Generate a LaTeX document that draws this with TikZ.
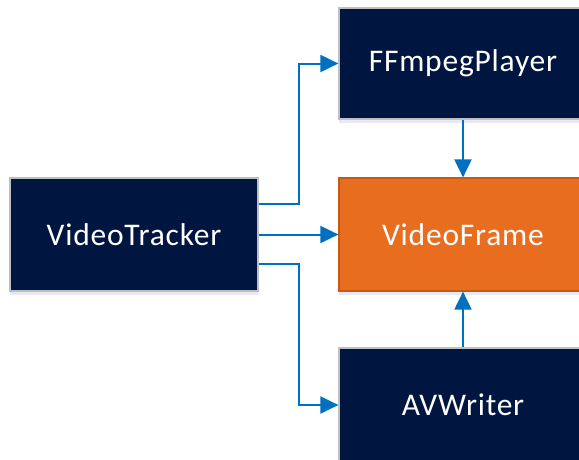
\documentclass[tikz,border=0pt]{standalone}
\usepackage{fontspec}
\setmainfont{Carlito}[LetterSpace=2.5]
\usetikzlibrary{arrows.meta,shadows}
\definecolor{navy}{HTML}{001641}
\definecolor{frameorange}{HTML}{E96D1F}
\definecolor{frameedge}{HTML}{C55A11}
\definecolor{linkblue}{HTML}{0070C0}
\definecolor{boxedge}{HTML}{BFBFBF}
\tikzset{
  darkbox/.style={draw=boxedge, line width=1.2pt, fill=navy, text=white,
    minimum width=248pt, minimum height=113pt, inner sep=0pt,
    font=\fontsize{31.5}{36}\selectfont,
    drop shadow={shadow xshift=0pt, shadow yshift=-4pt, opacity=0.12, fill=blue!40!gray}},
  hotbox/.style={darkbox, draw=frameedge, fill=frameorange},
  conn/.style={draw=linkblue, line width=2pt,
    -{Triangle[length=18pt,width=17pt]}},
}
\begin{document}
\begin{tikzpicture}[x=1pt,y=-1pt]
\useasboundingbox (0,0) rectangle (579,459);
\clip (0,0) rectangle (579,459);
\fill[white] (0,0) rectangle (579,459);
% components
\node[darkbox] (vt) at (134,234.5) {VideoTracker};
\node[darkbox, minimum height=111pt] (ff) at (463,63.5) {FFmpegPlayer};
\node[hotbox] (vf) at (463,234.5) {VideoFrame};
\node[darkbox, minimum height=114pt] (av) at (463,405) {AVWriter};
% data flow
\draw[conn] ([yshift=30.5pt]vt.east) -- ++(40,0) |- (ff.west);
\draw[conn] (vt.east) -- (vf.west);
\draw[conn] ([yshift=-29.5pt]vt.east) -- ++(40,0) |- (av.west);
\draw[conn] (ff.south) -- (vf.north);
\draw[conn] (av.north) -- (vf.south);
\end{tikzpicture}
\end{document}
